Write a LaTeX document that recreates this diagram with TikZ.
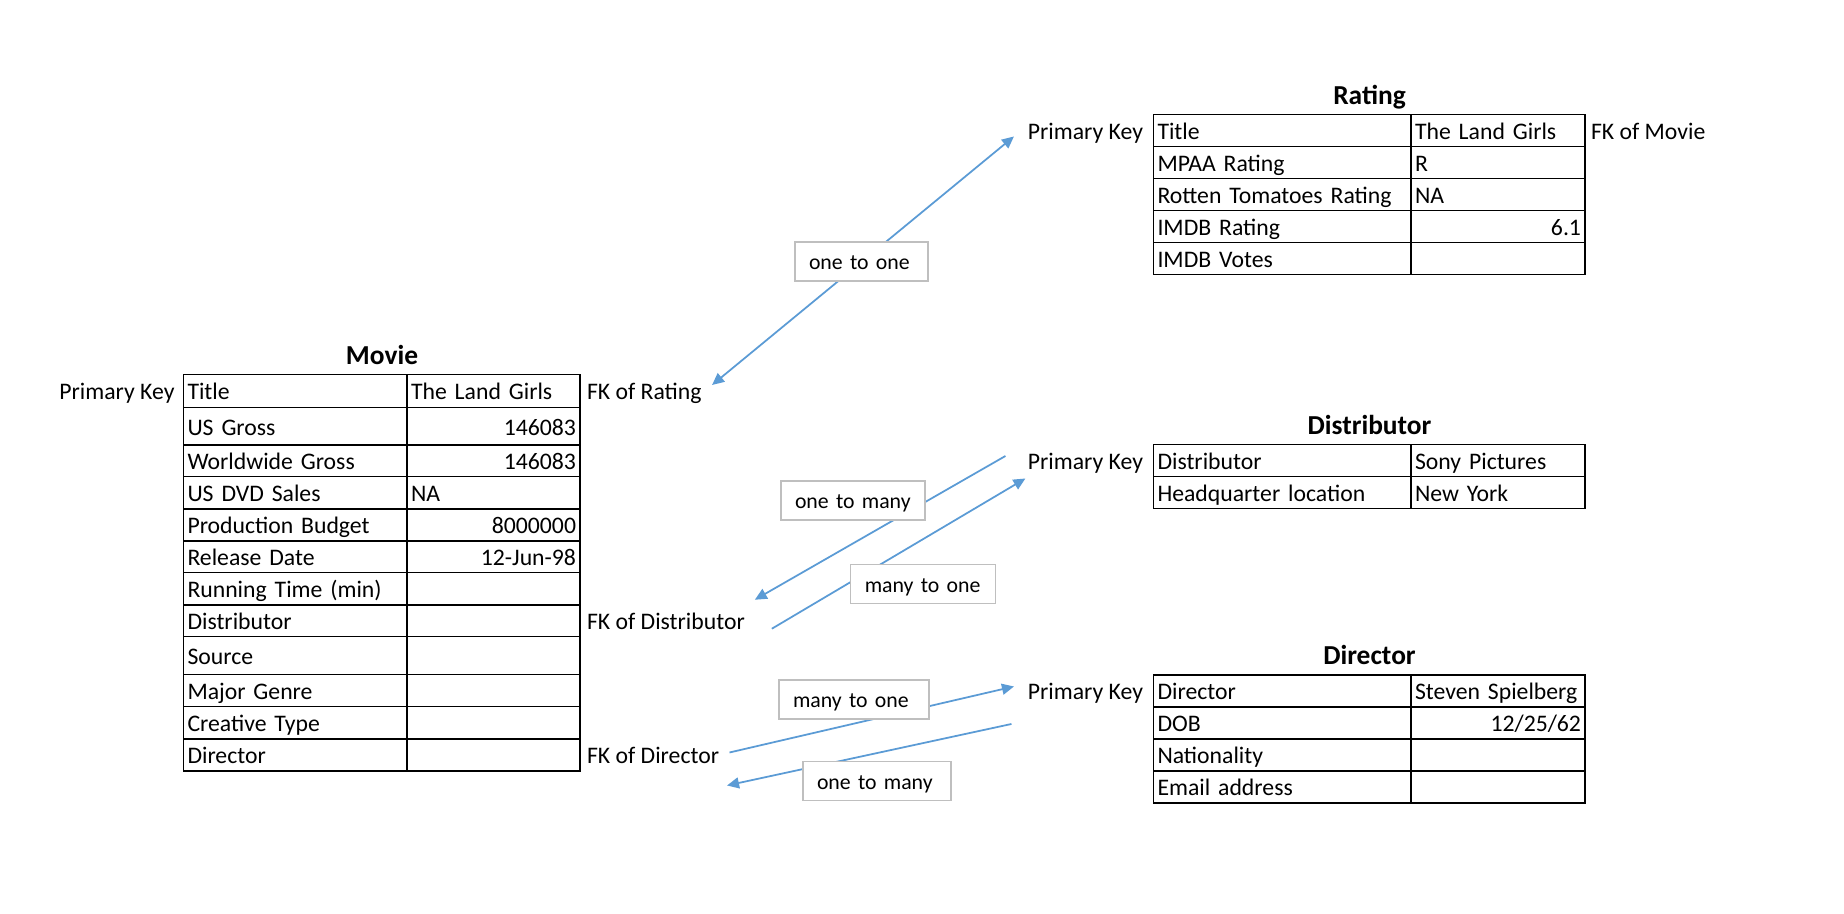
\documentclass[tikz,border=0pt]{standalone}
\usepackage{fontspec}
\setmainfont{Carlito}
\usepackage{tikz}
\usetikzlibrary{
arrows.meta,
positioning,
calc
}
\definecolor{LinkBlue}{HTML}{5B9BD5}
\definecolor{BoxGray}{HTML}{BFBFBF}

\begin{document}
\begin{tikzpicture}[x=1cm,y=1cm,>={Triangle[length=2.4mm,width=2.2mm]},
    every node/.style={font=\fontsize{13.5}{16}\selectfont},
    cell/.style={draw, line width=1.1pt, outer sep=0pt, inner xsep=0.08cm, inner ysep=0pt, minimum height=0.64cm, text height=0.42cm, text depth=0.06cm, anchor=north west},
    movkey/.style={cell, text width=4.31cm, align=left},
    movval/.style={cell, text width=3.30cm},
    tabkey/.style={cell, text width=4.99cm, align=left},
    tabval/.style={cell, text width=3.32cm},
    tabtitle/.style={font=\fontsize{15.6}{18}\selectfont\bfseries, anchor=base},
    keylbl/.style={inner xsep=0.08cm, inner ysep=0pt, outer sep=0pt, text height=0.42cm, text depth=0.06cm},
    link/.style={draw=LinkBlue, line width=1pt},
    relbox/.style={draw=BoxGray, line width=0.8pt, fill=white, font=\fontsize{12.4}{15}\selectfont, inner xsep=0.28cm, inner ysep=0pt, minimum height=0.78cm, text height=0.38cm, text depth=0.05cm, align=left}]
    \useasboundingbox (0,0) rectangle (36.88,18.28);
    \foreach \fld/\val/\al/\y/\h [count=\i] in {Title/The Land Girls/left/10.79/0.66, US Gross/146083/right/10.13/0.75, Worldwide Gross/146083/right/9.38/0.63, US DVD Sales/NA/left/8.75/0.65, Production Budget/8000000/right/8.10/0.64, Release Date/12-Jun-98/right/7.46/0.63, Running Time (min)//left/6.83/0.65, Distributor//left/6.18/0.63, Source//left/5.55/0.76, Major Genre//left/4.79/0.64, Creative Type//left/4.15/0.65, Director//left/3.50/0.64} {
        \node[movkey, minimum height=\h cm] (mk\i) at (3.67,\y) {\fld};
        \node[movval, align=\al, minimum height=\h cm] (mv\i) at (8.14,\y) {\val};
    }
    \foreach \fld/\val/\al [count=\i] in {Title/The Land Girls/left, MPAA Rating/R/left, Rotten Tomatoes Rating/NA/left, IMDB Rating/6.1/right, IMDB Votes//left} {
        \node[tabkey] (rk\i) at (23.07,{15.99-0.64*(\i-1)}) {\fld};
        \node[tabval, align=\al] (rv\i) at (28.22,{15.99-0.64*(\i-1)}) {\val};
    }
    \foreach \fld/\val/\al [count=\i] in {Distributor/Sony Pictures/left, Headquarter location/New York/left} {
        \node[tabkey] (disk\i) at (23.07,{9.39-0.64*(\i-1)}) {\fld};
        \node[tabval, align=\al] (disv\i) at (28.22,{9.39-0.64*(\i-1)}) {\val};
    }
    \foreach \fld/\val/\al [count=\i] in {Director/Steven Spielberg/left, DOB/{12/25/62}/right, Nationality//left, Email address//left} {
        \node[tabkey] (dirk\i) at (23.07,{4.78-0.64*(\i-1)}) {\fld};
        \node[tabval, align=\al] (dirv\i) at (28.22,{4.78-0.64*(\i-1)}) {\val};
    }
    \node[tabtitle] (movie) at (7.64,10.99) {Movie};
    \node[tabtitle] (rating) at (27.39,16.19) {Rating};
    \node[tabtitle] (distrib) at (27.39,9.59) {Distributor};
    \node[tabtitle] (director) at (27.39,4.98) {Director};
    \node[keylbl, left=0.1cm of mk1] (pkmov) {Primary Key};
    \node[keylbl, right=0.06cm of mv1] (fkrat) {FK of Rating};
    \node[keylbl, right=0.06cm of mv8] (fkdis) {FK of Distributor};
    \node[keylbl, right=0.06cm of mv12] (fkdir) {FK of Director};
    \node[keylbl, left=0.13cm of rk1] (pkrat) {Primary Key};
    \node[keylbl, right=0.04cm of rv1] (fkmov) {FK of Movie};
    \node[keylbl, left=0.13cm of disk1] (pkdis) {Primary Key};
    \node[keylbl, left=0.13cm of dirk1] (pkdir) {Primary Key};
    \draw[link, <->] ($(fkrat.east)+(0.13,0.12)$) -- ($(pkrat.west)+(-0.2,-0.12)$);
    \draw[link, ->] ($(pkdis.west)+(-0.37,0.09)$) -- ($(fkdis.east)+(0.12,0.42)$);
    \draw[link, ->] ($(fkdis.east)+(0.46,-0.16)$) -- ($(pkdis.west)+(0.03,-0.36)$);
    \draw[link, ->] ($(fkdir.east)+(0.13,0.05)$) -- ($(pkdir.west)+(-0.2,0.09)$);
    \draw[link, ->] ($(pkdir.west)+(-0.25,-0.66)$) -- ($(fkdir.east)+(0.08,-0.61)$);
    \node[relbox, text width=2.10cm] (onetoone) at (17.23,13.05) {one to one};
    \node[relbox, text width=2.32cm] (disotm) at (17.06,8.27) {one to many};
    \node[relbox, text width=2.33cm] (dismto) at (18.46,6.60) {many to one};
    \node[relbox, text width=2.44cm] (dirmto) at (17.08,4.29) {many to one};
    \node[relbox, text width=2.40cm] (dirotm) at (17.54,2.66) {one to many};
\end{tikzpicture}
\end{document}
